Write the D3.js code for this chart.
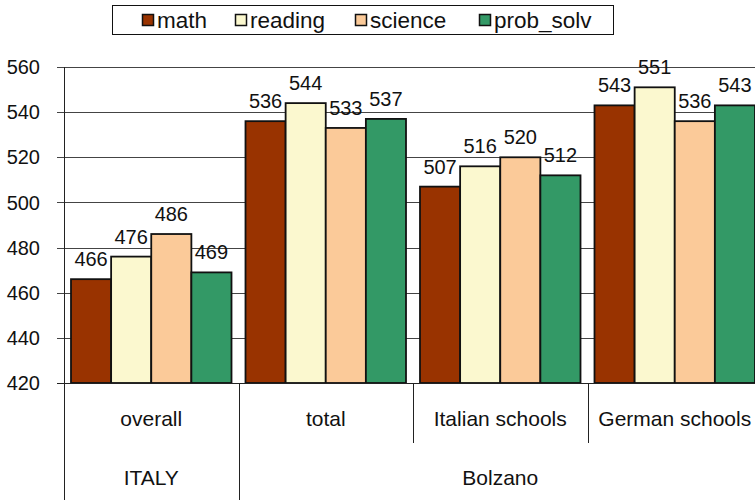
<!DOCTYPE html>
<html>
<head>
<meta charset="utf-8">
<script src="https://cdn.jsdelivr.net/npm/d3@7"></script>
<style>
  body { margin: 0; background: #fff; }
  svg { display: block; font-family: "Liberation Sans", Arial, sans-serif; }
</style>
</head>
<body>
<div id="chart"></div>
<script>
// chart data
const categories = ["overall", "total", "Italian schools", "German schools"];
const groups = [
    { name: "ITALY", span: 1 },
    { name: "Bolzano", span: 3 }
];
const seriesNames = ["math", "reading", "science", "prob_solv"];
const seriesColors = ["#993300", "#fbf8cf", "#fbca99", "#339966"];
const math = [466, 536, 507, 543];
const reading = [476, 544, 516, 551];
const science = [486, 533, 520, 536];
const probSolv = [469, 537, 512, 543];
const yTicks = [420, 440, 460, 480, 500, 520, 540, 560];

const width = 755;
const height = 500;
const marginLeft = 64;
const plotRight = 762;
const marginTop = 67;
const axisY = 383;

const values = [math, reading, science, probSolv];
const rows = [];
categories.forEach((c, i) => {
    seriesNames.forEach((s, j) => {
        rows.push({ cat: c, series: s, value: values[j][i] });
    });
});

const svg = d3.select("#chart").append("svg")
    .attr("width", width)
    .attr("height", height)
    .attr("viewBox", [0, 0, width, height]);

// scales
const x0 = d3.scaleBand()
    .domain(categories)
    .range([marginLeft, plotRight])
    .padding(0);

const x1 = d3.scaleBand()
    .domain(seriesNames)
    .range([7, x0.bandwidth() - 7])
    .padding(0);

const y = d3.scaleLinear()
    .domain([420, 560])
    .range([axisY, marginTop]);

const color = d3.scaleOrdinal()
    .domain(seriesNames)
    .range(seriesColors);

// horizontal gridlines
svg.append("g")
    .selectAll("line")
    .data(yTicks.filter(d => d > 420))
    .join("line")
    .attr("x1", marginLeft - 7)
    .attr("x2", width)
    .attr("y1", d => Math.round(y(d)) + 0.5)
    .attr("y2", d => Math.round(y(d)) + 0.5)
    .attr("stroke", "#444")
    .attr("stroke-width", 1);

// y axis labels
svg.append("g")
    .selectAll("text")
    .data(yTicks)
    .join("text")
    .attr("x", 40)
    .attr("y", d => y(d))
    .attr("dy", "0.36em")
    .attr("text-anchor", "end")
    .attr("font-size", 20)
    .attr("fill", "#111")
    .text(d => d);

// bars
const barGroups = svg.append("g")
    .selectAll("g")
    .data(categories)
    .join("g")
    .attr("transform", d => `translate(${x0(d)},0)`);

barGroups.selectAll("rect")
    .data(c => rows.filter(r => r.cat === c))
    .join("rect")
    .attr("x", d => x1(d.series))
    .attr("y", d => y(d.value))
    .attr("width", x1.bandwidth())
    .attr("height", d => y(420) - y(d.value))
    .attr("fill", d => color(d.series))
    .attr("stroke", "#111")
    .attr("stroke-width", 1.8);

barGroups.selectAll("text")
    .data(c => rows.filter(r => r.cat === c))
    .join("text")
    .attr("x", d => x1(d.series) + x1.bandwidth() / 2)
    .attr("y", d => y(d.value) - 13)
    .attr("text-anchor", "middle")
    .attr("font-size", 20)
    .attr("fill", "#111")
    .text(d => d.value);

// axes lines
svg.append("line")
    .attr("x1", marginLeft - 7).attr("x2", width)
    .attr("y1", axisY + 0.5).attr("y2", axisY + 0.5)
    .attr("stroke", "#222");

svg.append("line")
    .attr("x1", marginLeft + 0.5).attr("x2", marginLeft + 0.5)
    .attr("y1", marginTop).attr("y2", height)
    .attr("stroke", "#222");

// category separators (inner level short, group edges long)
let start = 0;
const groupEdges = [0];
groups.forEach(g => { start += g.span; groupEdges.push(start); });

categories.forEach((c, i) => {
    if (i === 0) return;
    const long = groupEdges.includes(i);
    const xs = Math.round(x0(c)) + 0.5;
    svg.append("line")
        .attr("x1", xs).attr("x2", xs)
        .attr("y1", axisY).attr("y2", long ? height : 443)
        .attr("stroke", "#222");
});

// category labels
svg.append("g")
    .selectAll("text")
    .data(categories)
    .join("text")
    .attr("x", d => x0(d) + x0.bandwidth() / 2)
    .attr("y", 426)
    .attr("text-anchor", "middle")
    .attr("font-size", 21)
    .attr("fill", "#111")
    .text(d => d);

// group labels
let idx = 0;
groups.forEach(g => {
    const x0s = x0(categories[idx]);
    const x1s = x0(categories[idx + g.span - 1]) + x0.bandwidth();
    svg.append("text")
        .attr("x", (x0s + x1s) / 2)
        .attr("y", 485)
        .attr("text-anchor", "middle")
        .attr("font-size", 21)
        .attr("fill", "#111")
        .text(g.name);
    idx += g.span;
});

// legend
const legend = svg.append("g");
legend.append("rect")
    .attr("x", 112.5).attr("y", 5.5)
    .attr("width", 501).attr("height", 29)
    .attr("fill", "#fff")
    .attr("stroke", "#111");

const legendX = [142, 235, 355, 479];
const items = legend.selectAll("g")
    .data(seriesNames)
    .join("g")
    .attr("transform", (d, i) => `translate(${legendX[i]},0)`);

items.append("rect")
    .attr("x", 0.5).attr("y", 14.5)
    .attr("width", 11).attr("height", 11)
    .attr("fill", d => color(d))
    .attr("stroke", "#111")
    .attr("stroke-width", 1.5);

items.append("text")
    .attr("x", 15)
    .attr("y", 28)
    .attr("font-size", 22.5)
    .attr("fill", "#111")
    .text(d => d);
</script>
</body>
</html>
